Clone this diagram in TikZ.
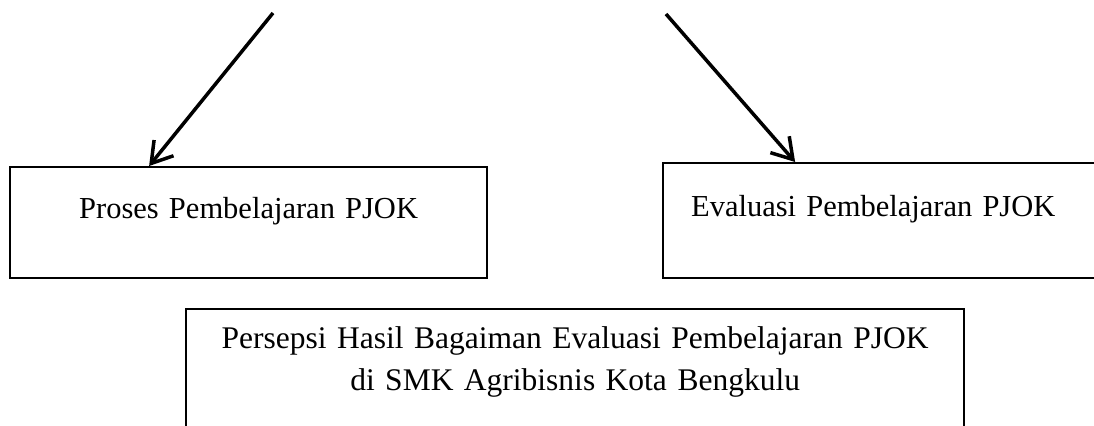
\documentclass[tikz,border=0pt]{standalone}
\usepackage{fontspec}
\setmainfont{Liberation Serif}
\usepackage{tikz}
\usetikzlibrary{arrows.meta}

\tikzset{
  stagebox/.style={draw, line width=0.9pt, anchor=north west,
    font=\fontsize{12.2}{14.8}\selectfont, text height=10pt},
  flow/.style={line width=1.4pt, -{Straight Barb[length=8pt, width=10pt]}}
}

\begin{document}
\begin{tikzpicture}[x=0.4pt, y=-0.4pt]

\clip (0,0) rectangle (1094,426);

\node[stagebox, align=center, text width=168.4pt, inner xsep=11.2pt,
      inner ysep=10.4pt, text depth=13.6pt] (proses) at (9,166)
      {Proses Pembelajaran PJOK};

\node[stagebox, align=left, text width=152.8pt, inner xsep=11.2pt,
      inner ysep=11.2pt, text depth=13.6pt] (evaluasi) at (662,162)
      {Evaluasi Pembelajaran PJOK};

\node[stagebox, align=center, text width=307.2pt, inner xsep=2pt,
      inner ysep=5.8pt, text depth=34.4pt,
      font=\fontsize{12.6}{16.6}\selectfont] (persepsi) at (185,308)
      {Persepsi Hasil Bagaiman Evaluasi Pembelajaran PJOK\\
       di SMK Agribisnis Kota Bengkulu};

\coordinate (keproses)   at (273,13);
\coordinate (keevaluasi) at (666,14);

\draw[flow] (keproses)   -- ([xshift=-39.8pt]proses.north);
\draw[flow] (keevaluasi) -- ([xshift=-34.8pt]evaluasi.north);

\end{tikzpicture}
\end{document}
